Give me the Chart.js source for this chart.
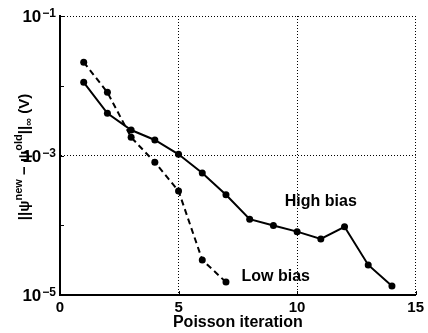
<!DOCTYPE html>
<html>
<head>
<meta charset="utf-8">
<script src="https://cdn.jsdelivr.net/npm/chart.js@4"></script>
<style>
  html, body { margin: 0; padding: 0; background: #fff; }
  #wrap { width: 428px; height: 333px; }
</style>
</head>
<body>
<div id="wrap"><canvas id="chart" width="428" height="333"></canvas></div>
<script>
// === DATA ===
const iterHigh = [1, 2, 3, 4, 5, 6, 7, 8, 9, 10, 11, 12, 13, 14];
const errHigh = [0.0112, 0.00403, 0.00232, 0.00167, 0.00104, 5.6e-4, 2.74e-4, 1.22e-4, 9.9e-5, 8.1e-5, 6.35e-5, 9.5e-5, 2.7e-5, 1.35e-5];
const iterLow = [1, 2, 3, 4, 5, 6, 7];
const errLow = [0.0217, 0.00805, 0.00182, 8.0e-4, 3.1e-4, 3.18e-5, 1.53e-5];
const yTickExp = [-1, -3, -5];
const xTicks = [0, 5, 10, 15];

const FONT = '"Liberation Sans", Arial, sans-serif';

function toPoints(xs, ys) {
    return xs.map((x, i) => ({ x: x, y: ys[i] }));
}

// === PLUGIN: label log, judul sumbu Y, teks anotasi, tick ke dalam ===
const decorPlugin = {
    id: 'decor',
    afterDraw(chart) {
        const ctx = chart.ctx;
        const xs = chart.scales.x;
        const ys = chart.scales.y;
        const area = chart.chartArea;
        ctx.save();
        ctx.fillStyle = '#000';
        ctx.strokeStyle = '#000';

        // tick kecil ke dalam
        ctx.lineWidth = 1;
        for (let e = -5; e <= -1; e++) {
            const y = Math.round(ys.getPixelForValue(Math.pow(10, e))) + 0.5;
            ctx.beginPath();
            ctx.moveTo(area.left, y);
            ctx.lineTo(area.left + 4, y);
            ctx.stroke();
        }
        xTicks.forEach(v => {
            const x = Math.round(xs.getPixelForValue(v)) + 0.5;
            ctx.beginPath();
            ctx.moveTo(x, area.bottom);
            ctx.lineTo(x, area.bottom - 4);
            ctx.stroke();
        });

        // label 10^n
        yTickExp.forEach(e => {
            const y = ys.getPixelForValue(Math.pow(10, e));
            ctx.font = 'bold 12px ' + FONT;
            const sup = '\u2212' + Math.abs(e);
            const supW = ctx.measureText(sup).width;
            const right = 56;
            ctx.textAlign = 'left';
            ctx.textBaseline = 'alphabetic';
            ctx.fillText(sup, right - supW, y + 1);
            ctx.font = 'bold 17px ' + FONT;
            ctx.textAlign = 'right';
            ctx.fillText('10', right - supW - 1, y + 6);
        });

        // judul sumbu Y (teks berputar dengan superscript & subscript)
        const parts = [
            ['||\u03c8', 'main'], ['new', 'sup'], [' \u2212 \u03c8', 'main'], ['old', 'sup'],
            ['||', 'main'], ['\u221e', 'sub'], [' (V)', 'main']
        ];
        const fontFor = t => t === 'main' ? 'bold 15px ' + FONT : 'bold 11px ' + FONT;
        let total = 0;
        parts.forEach(p => { ctx.font = fontFor(p[1]); total += ctx.measureText(p[0]).width; });
        ctx.translate(29, 157);
        ctx.rotate(-Math.PI / 2);
        let cx = -total / 2;
        ctx.textAlign = 'left';
        parts.forEach(p => {
            ctx.font = fontFor(p[1]);
            const dy = p[1] === 'sup' ? -7 : (p[1] === 'sub' ? 3 : 0);
            ctx.fillText(p[0], cx, dy);
            cx += ctx.measureText(p[0]).width;
        });
        ctx.setTransform(1, 0, 0, 1, 0, 0);

        // anotasi
        ctx.font = 'bold 16px ' + FONT;
        ctx.textAlign = 'center';
        ctx.textBaseline = 'middle';
        ctx.fillText('High bias', xs.getPixelForValue(11), ys.getPixelForValue(2.15e-4));
        ctx.fillText('Low bias', xs.getPixelForValue(9.1), ys.getPixelForValue(1.81e-5));
        ctx.restore();
    }
};

const gridColor = c => {
    const v = c.tick ? c.tick.value : null;
    if (v == null) return 'rgba(0,0,0,0)';
    const e = Math.round(Math.log10(v));
    return yTickExp.includes(e) ? '#000' : 'rgba(0,0,0,0)';
};

new Chart(document.getElementById('chart'), {
    type: 'line',
    data: {
        datasets: [
            {
                label: 'High bias',
                data: toPoints(iterHigh, errHigh),
                borderColor: '#000',
                backgroundColor: '#000',
                borderWidth: 2,
                pointRadius: 3.5,
                pointBackgroundColor: '#000',
                pointBorderWidth: 0,
                tension: 0
            },
            {
                label: 'Low bias',
                data: toPoints(iterLow, errLow),
                borderColor: '#000',
                backgroundColor: '#000',
                borderWidth: 2,
                borderDash: [6, 4],
                pointRadius: 3.5,
                pointBackgroundColor: '#000',
                pointBorderWidth: 0,
                tension: 0
            }
        ]
    },
    options: {
        responsive: false,
        animation: false,
        layout: { padding: { left: 0, right: 8, top: 16, bottom: 0 } },
        plugins: { legend: { display: false }, tooltip: { enabled: false } },
        scales: {
            x: {
                type: 'linear',
                min: 0, max: 15,
                afterBuildTicks: s => { s.ticks = xTicks.map(v => ({ value: v })); },
                afterFit: s => { s.height = 38; },
                ticks: { color: '#000', font: { family: FONT, size: 15, weight: 'bold' }, padding: 4, maxRotation: 0 },
                grid: { color: '#000', lineWidth: 1, drawTicks: false },
                border: { display: true, color: '#000', width: 2, dash: [1, 2] },
                title: { display: true, text: 'Poisson iteration', color: '#000', font: { family: FONT, size: 16, weight: 'bold' }, padding: { top: 0, bottom: 1 } }
            },
            y: {
                type: 'logarithmic',
                min: 1e-5, max: 1e-1,
                afterBuildTicks: s => { s.ticks = [-5, -4, -3, -2, -1].map(e => ({ value: Math.pow(10, e) })); },
                afterFit: s => { s.width = 60; },
                ticks: { display: false },
                grid: { color: gridColor, lineWidth: 1, drawTicks: false },
                border: { display: true, color: '#000', width: 2, dash: [1, 2] }
            }
        }
    },
    plugins: [decorPlugin]
});
</script>
</body>
</html>
